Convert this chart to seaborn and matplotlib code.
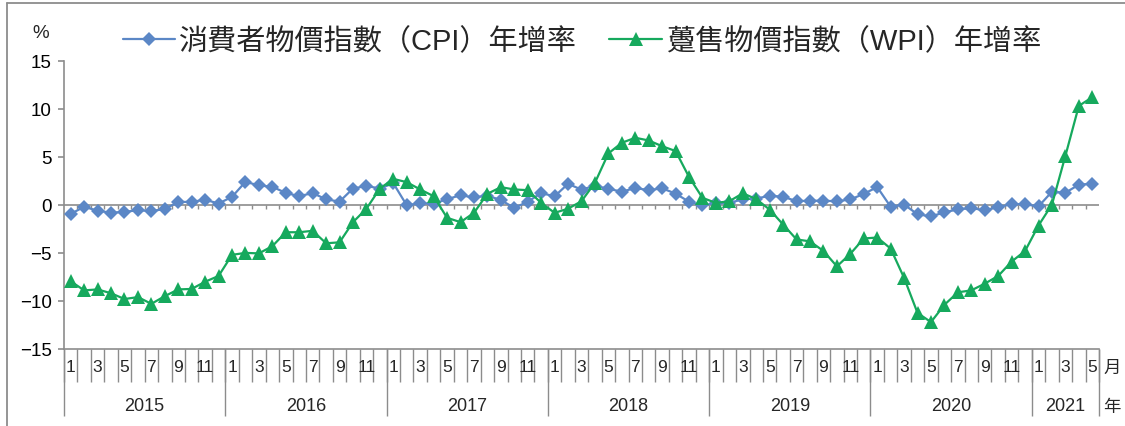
import numpy as np
import pandas as pd
import matplotlib
matplotlib.use("Agg")
import matplotlib.pyplot as plt
import seaborn as sns
from matplotlib.lines import Line2D

# Monthly year-on-year growth (%), Jan 2015 - May 2021
years = [2015, 2016, 2017, 2018, 2019, 2020, 2021]
months_per_year = [12, 12, 12, 12, 12, 12, 5]

cpi = [
    -0.94, -0.20, -0.61, -0.82, -0.73, -0.56, -0.64, -0.44, 0.30, 0.31, 0.53, 0.14,
    0.83, 2.40, 2.02, 1.88, 1.24, 0.90, 1.23, 0.57, 0.34, 1.70, 1.97, 1.70,
    2.25, -0.05, 0.18, 0.10, 0.59, 1.00, 0.77, 0.96, 0.50, -0.32, 0.33, 1.22,
    0.89, 2.19, 1.58, 2.00, 1.67, 1.37, 1.75, 1.53, 1.72, 1.17, 0.32, -0.05,
    0.18, 0.20, 0.58, 0.66, 0.94, 0.85, 0.38, 0.43, 0.43, 0.37, 0.56, 1.14,
    1.85, -0.20, 0.03, -0.98, -1.20, -0.78, -0.47, -0.33, -0.57, -0.24, 0.08, 0.06,
    -0.16, 1.37, 1.26, 2.10, 2.20,
]
wpi = [
    -7.95, -8.90, -8.80, -9.20, -9.80, -9.60, -10.30, -9.50, -8.80, -8.75, -8.00, -7.40,
    -5.20, -5.00, -5.05, -4.30, -2.85, -2.85, -2.70, -4.00, -3.90, -1.80, -0.40, 1.70,
    2.70, 2.36, 1.60, 0.90, -1.35, -1.80, -0.83, 1.15, 1.84, 1.60, 1.53, 0.20,
    -0.83, -0.40, 0.38, 2.30, 5.35, 6.46, 6.98, 6.70, 6.10, 5.60, 2.90, 0.73,
    0.20, 0.38, 1.20, 0.60, -0.50, -2.05, -3.60, -3.80, -4.80, -6.40, -5.10, -3.50,
    -3.40, -4.55, -7.60, -11.25, -12.20, -10.40, -9.10, -8.90, -8.20, -7.40, -5.90, -4.80,
    -2.15, 0.03, 5.10, 10.30, 11.20,
]
cpi_label = "消費者物價指數（CPI）年增率"
wpi_label = "躉售物價指數（WPI）年增率"

months = [m for n in months_per_year for m in range(1, n + 1)]
n = len(months)
df = pd.DataFrame({"idx": np.arange(n), "CPI": cpi, "WPI": wpi})

sns.set_theme(style="white")
plt.rcParams["font.family"] = ["Liberation Sans", "Noto Sans CJK TC", "DejaVu Sans"]

GRAY = "#8c8c8c"
BLUE = "#5b87c6"
GREEN = "#16a95d"

fig = plt.figure(figsize=(11.25, 4.27), dpi=100)
ax = fig.add_axes([64 / 1125, 77 / 427, 1035 / 1125, 288.3 / 427])

sns.lineplot(data=df, x="idx", y="CPI", ax=ax, color=BLUE, marker="D", markersize=7,
             markeredgewidth=0, linewidth=1.6, label=cpi_label, zorder=3)
sns.lineplot(data=df, x="idx", y="WPI", ax=ax, color=GREEN, marker="^", markersize=10.5,
             markeredgewidth=0, linewidth=1.6, label=wpi_label, zorder=4)

ax.set_xlim(-0.5, n - 0.5)
ax.set_ylim(-15, 15)
ax.set_yticks([-15, -10, -5, 0, 5, 10, 15])
ax.set_xticks([])
ax.set_xlabel("")
ax.set_ylabel("")
for s in ["top", "right"]:
    ax.spines[s].set_visible(False)
for s in ["left", "bottom"]:
    ax.spines[s].set_color(GRAY)
    ax.spines[s].set_linewidth(1.2)
ax.tick_params(axis="y", direction="out", length=4, width=1.2, color=GRAY,
               labelsize=13.5, labelcolor="black", pad=5, left=True)

# zero line with small category ticks
ax.axhline(0, color=GRAY, linewidth=1.2, zorder=2)
bounds = np.arange(n + 1) - 0.5
ax.vlines(bounds[1:-1], -0.42, 0, color=GRAY, linewidth=1, zorder=2)

# two-level category axis below the plot
xt = ax.get_xaxis_transform()
ax.vlines(bounds, -33 / 288.3, 0, color=GRAY, linewidth=1, transform=xt, clip_on=False)
year_bounds = [-0.5]
for c in months_per_year:
    year_bounds.append(year_bounds[-1] + c)
ax.vlines(year_bounds, -67 / 288.3, 0, color=GRAY, linewidth=1, transform=xt, clip_on=False)
for i, m in enumerate(months):
    if m % 2 == 1:
        ax.text(i, -18 / 288.3, str(m), transform=xt, ha="center", va="center",
                fontsize=12.5, clip_on=False)
for k, y in enumerate(years):
    mid = (year_bounds[k] + year_bounds[k + 1]) / 2
    ax.text(mid, -57 / 288.3, str(y), transform=xt, ha="center", va="center",
            fontsize=13, clip_on=False)
fig.text(1103 / 1125, 1 - 368 / 427, "月", ha="left", va="center", fontsize=12.5,
         family=["Noto Sans CJK TC"])
fig.text(1103 / 1125, 1 - 407 / 427, "年", ha="left", va="center", fontsize=12.5,
         family=["Noto Sans CJK TC"])
fig.text(41 / 1125, 1 - 33 / 427, "%", ha="center", va="center", fontsize=13.5)

# legend
handles, labels = ax.get_legend_handles_labels()
ax.legend(handles, labels, loc="center", bbox_to_anchor=(582 / 1125, 1 - 42 / 427),
          bbox_transform=fig.transFigure, ncol=2, frameon=False, fontsize=21,
          handlelength=1.8, handletextpad=0.15, columnspacing=1.1, borderaxespad=0)

# chart frame (top and left edges)
fig.add_artist(Line2D([7 / 1125, 7 / 1125], [0, 1 - 4 / 427], color=GRAY, linewidth=1.3,
                      transform=fig.transFigure))
fig.add_artist(Line2D([7 / 1125, 1], [1 - 4 / 427, 1 - 4 / 427], color=GRAY, linewidth=1.3,
                      transform=fig.transFigure))

fig.savefig("out.png", dpi=100)
